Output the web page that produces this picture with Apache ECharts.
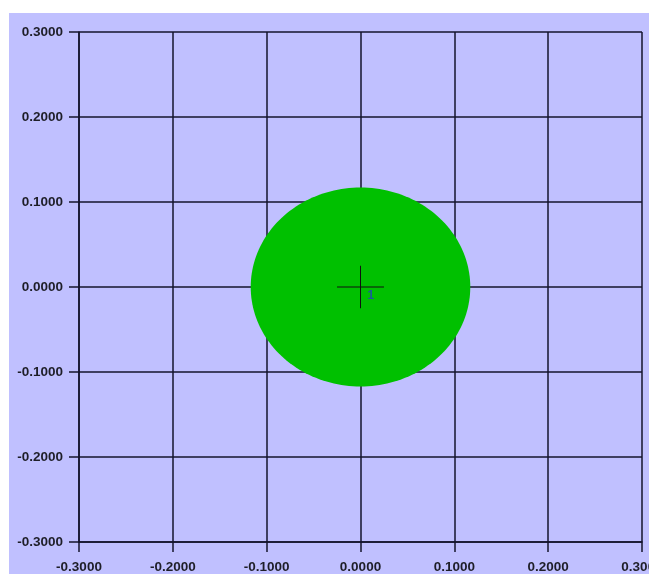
<!DOCTYPE html>
<html>
<head>
<meta charset="utf-8">
<style>
  html, body { margin: 0; padding: 0; background: #ffffff; overflow: hidden; }
  #chart { width: 649px; height: 574px; }
</style>
<script src="https://cdn.jsdelivr.net/npm/echarts@6/dist/echarts.min.js"></script>
</head>
<body>
<div id="chart"></div>
<script>
// Axis range and tick step (both axes share them)
const axisMin = -0.3;
const axisMax = 0.3;
const axisStep = 0.1;

// Zones: centre x, centre y, radius (data units), label
const zoneCenters = [[0.0, 0.0]];
const zoneRadii = [0.117];
const zoneLabels = ['1'];
// Half-length of the centre cross marker (data units)
const crossHalf = [0.025];

const gridColor = '#14142c';
const labelFont = { fontFamily: 'Liberation Sans', fontWeight: 'bold', fontSize: 13.5, color: '#1e1e28' };

const chart = echarts.init(document.getElementById('chart'), null, { renderer: 'canvas', width: 649, height: 574 });

const zoneData = zoneCenters.map((c, i) => [c[0], c[1], zoneRadii[i], crossHalf[i], zoneLabels[i]]);

function axisCommon(isX) {
  return {
    type: 'value',
    min: axisMin,
    max: axisMax,
    interval: axisStep,
    axisLine: { show: true, onZero: false, lineStyle: { color: gridColor, width: 1.5 } },
    axisTick: { show: true, length: 10, lineStyle: { color: gridColor, width: 1.5 } },
    splitLine: { show: true, lineStyle: { color: gridColor, width: 1.5 } },
    axisLabel: Object.assign({
      margin: isX ? 18 : 16,
      formatter: v => v.toFixed(4)
    }, labelFont)
  };
}

chart.setOption({
  animation: false,
  backgroundColor: '#ffffff',
  graphic: [{
    type: 'rect',
    z: -10,
    silent: true,
    shape: { x: 9, y: 13, width: 640, height: 561 },
    style: { fill: '#c0c0ff' }
  }],
  grid: { left: 79, right: 7, top: 32, bottom: 32, containLabel: false, outerBoundsMode: 'none' },
  xAxis: axisCommon(true),
  yAxis: axisCommon(false),
  series: [{
    type: 'custom',
    coordinateSystem: 'cartesian2d',
    clip: false,
    z: 5,
    data: zoneData,
    renderItem: function (params, api) {
      const cx = api.value(0), cy = api.value(1), r = api.value(2), h = api.value(3);
      const pts = [];
      const n = 180;
      for (let k = 0; k < n; k++) {
        const t = (k / n) * Math.PI * 2;
        pts.push(api.coord([cx + r * Math.cos(t), cy + r * Math.sin(t)]));
      }
      const c = api.coord([cx, cy]);
      const l = api.coord([cx - h, cy]), rr = api.coord([cx + h, cy]);
      const tp = api.coord([cx, cy + h]), bt = api.coord([cx, cy - h]);
      return {
        type: 'group',
        children: [
          { type: 'polygon', shape: { points: pts }, style: { fill: '#00c000' } },
          { type: 'line', shape: { x1: l[0], y1: l[1], x2: rr[0], y2: rr[1] }, style: { stroke: '#101010', lineWidth: 1 } },
          { type: 'line', shape: { x1: tp[0], y1: tp[1], x2: bt[0], y2: bt[1] }, style: { stroke: '#101010', lineWidth: 1 } },
          { type: 'text', x: c[0] + 7, y: c[1] + 3,
            style: { text: api.value(4), fill: '#1a5a9e', font: 'bold 12px "Liberation Sans"', textAlign: 'left', textVerticalAlign: 'top' } }
        ]
      };
    }
  }]
});
</script>
</body>
</html>
